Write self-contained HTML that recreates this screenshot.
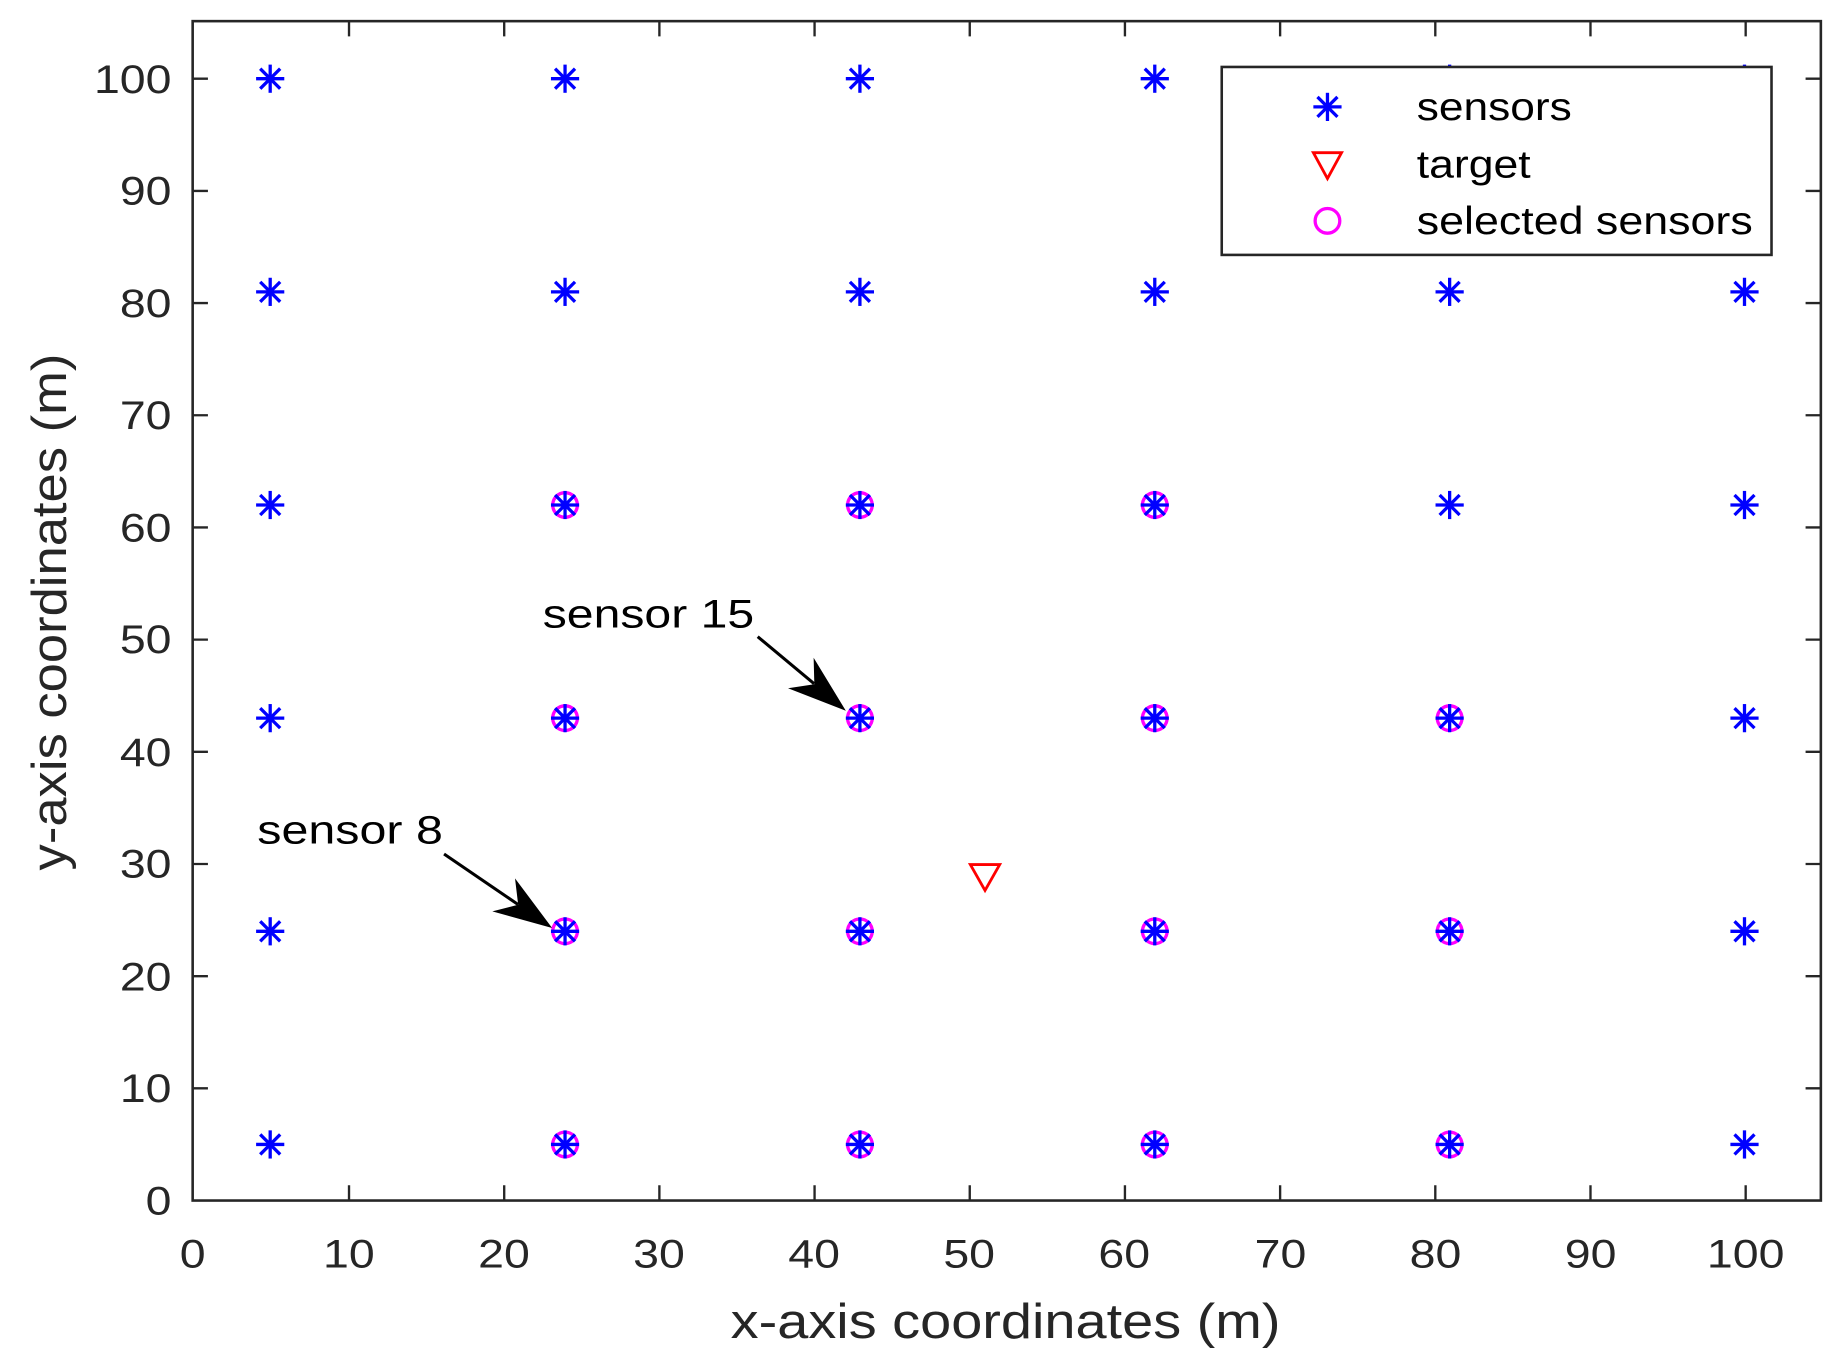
<!DOCTYPE html>
<html><head><meta charset="utf-8"><style>html,body{margin:0;padding:0;background:#fff}svg{display:block}</style></head>
<body>
<svg width="1842" height="1365" viewBox="0 0 1568 1162" preserveAspectRatio="none" xmlns="http://www.w3.org/2000/svg" font-family="'Liberation Sans', Arial, sans-serif">
<defs>
<g id="ast" stroke="#0000ff" stroke-width="2.8" fill="none">
<line x1="-12" y1="0" x2="12" y2="0"/><line x1="0" y1="-12" x2="0" y2="12"/>
<line x1="-8.5" y1="-8.5" x2="8.5" y2="8.5"/><line x1="-8.5" y1="8.5" x2="8.5" y2="-8.5"/>
</g>
<g id="cir"><circle r="10.5" fill="none" stroke="#ff00ff" stroke-width="2.8"/></g>
</defs>
<rect width="1568" height="1162" fill="#fff"/>
<g>
<use href="#cir" x="481" y="974.25"/><use href="#cir" x="732" y="974.25"/><use href="#cir" x="983" y="974.25"/><use href="#cir" x="1234" y="974.25"/>
<use href="#cir" x="481" y="792.8"/><use href="#cir" x="732" y="792.8"/><use href="#cir" x="983" y="792.8"/><use href="#cir" x="1234" y="792.8"/>
<use href="#cir" x="481" y="611.35"/><use href="#cir" x="732" y="611.35"/><use href="#cir" x="983" y="611.35"/><use href="#cir" x="1234" y="611.35"/>
<use href="#cir" x="481" y="429.9"/><use href="#cir" x="732" y="429.9"/><use href="#cir" x="983" y="429.9"/>
</g>
<g>
<use href="#ast" x="230" y="974.25"/><use href="#ast" x="481" y="974.25"/><use href="#ast" x="732" y="974.25"/><use href="#ast" x="983" y="974.25"/><use href="#ast" x="1234" y="974.25"/><use href="#ast" x="1485" y="974.25"/>
<use href="#ast" x="230" y="792.8"/><use href="#ast" x="481" y="792.8"/><use href="#ast" x="732" y="792.8"/><use href="#ast" x="983" y="792.8"/><use href="#ast" x="1234" y="792.8"/><use href="#ast" x="1485" y="792.8"/>
<use href="#ast" x="230" y="611.35"/><use href="#ast" x="481" y="611.35"/><use href="#ast" x="732" y="611.35"/><use href="#ast" x="983" y="611.35"/><use href="#ast" x="1234" y="611.35"/><use href="#ast" x="1485" y="611.35"/>
<use href="#ast" x="230" y="429.9"/><use href="#ast" x="481" y="429.9"/><use href="#ast" x="732" y="429.9"/><use href="#ast" x="983" y="429.9"/><use href="#ast" x="1234" y="429.9"/><use href="#ast" x="1485" y="429.9"/>
<use href="#ast" x="230" y="248.45"/><use href="#ast" x="481" y="248.45"/><use href="#ast" x="732" y="248.45"/><use href="#ast" x="983" y="248.45"/><use href="#ast" x="1234" y="248.45"/><use href="#ast" x="1485" y="248.45"/>
<use href="#ast" x="230" y="67"/><use href="#ast" x="481" y="67"/><use href="#ast" x="732" y="67"/><use href="#ast" x="983" y="67"/><use href="#ast" x="1234" y="67"/><use href="#ast" x="1485" y="67"/>
</g>
<polygon points="826,736 851,736 838.5,758" fill="none" stroke="#ff0000" stroke-width="2.4"/>
<line x1="645" y1="542" x2="693" y2="582" stroke="#000" stroke-width="2.6"/>
<polygon points="720,605 670.8,585.9 693.2,582.5 692.6,559.9" fill="#000"/>
<line x1="378" y1="727" x2="441" y2="770" stroke="#000" stroke-width="2.6"/>
<polygon points="470,790 419.1,775.8 441.1,770.2 438.4,747.7" fill="#000"/>
<text x="462" y="534" font-size="34" fill="#000" textLength="180" lengthAdjust="spacingAndGlyphs">sensor 15</text>
<text x="219" y="718" font-size="34" fill="#000" textLength="158" lengthAdjust="spacingAndGlyphs">sensor 8</text>
<rect x="1040" y="57" width="468" height="160" fill="#fff" stroke="#262626" stroke-width="2.2"/>
<use href="#ast" x="1130" y="91"/>
<polygon points="1118,130 1142,130 1130,152" fill="none" stroke="#ff0000" stroke-width="2.4"/>
<use href="#cir" x="1130" y="188"/>
<g font-size="33" fill="#000">
<text x="1206" y="102" textLength="132" lengthAdjust="spacingAndGlyphs">sensors</text>
<text x="1206" y="151" textLength="97" lengthAdjust="spacingAndGlyphs">target</text>
<text x="1206" y="199" textLength="286" lengthAdjust="spacingAndGlyphs">selected sensors</text>
</g>
<rect x="164" y="18" width="1386" height="1004" fill="none" stroke="#262626" stroke-width="2.2"/>
<g stroke="#262626" stroke-width="2">
<path d="M297.1,1022v-13M429.2,1022v-13M561.3,1022v-13M693.4,1022v-13M825.5,1022v-13M957.6,1022v-13M1089.7,1022v-13M1221.8,1022v-13M1353.9,1022v-13M1486,1022v-13"/>
<path d="M297.1,18v13M429.2,18v13M561.3,18v13M693.4,18v13M825.5,18v13M957.6,18v13M1089.7,18v13M1221.8,18v13M1353.9,18v13M1486,18v13"/>
<path d="M164,926.5h13M164,831h13M164,735.5h13M164,640h13M164,544.5h13M164,449h13M164,353.5h13M164,258h13M164,162.5h13M164,67h13"/>
<path d="M1550,926.5h-13M1550,831h-13M1550,735.5h-13M1550,640h-13M1550,544.5h-13M1550,449h-13M1550,353.5h-13M1550,258h-13M1550,162.5h-13M1550,67h-13"/>
</g>
<g font-size="34" fill="#262626" text-anchor="middle">
<text x="164" y="1079" textLength="22" lengthAdjust="spacingAndGlyphs">0</text><text x="297" y="1079" textLength="44" lengthAdjust="spacingAndGlyphs">10</text><text x="429" y="1079" textLength="44" lengthAdjust="spacingAndGlyphs">20</text><text x="561" y="1079" textLength="44" lengthAdjust="spacingAndGlyphs">30</text><text x="693" y="1079" textLength="44" lengthAdjust="spacingAndGlyphs">40</text><text x="825" y="1079" textLength="44" lengthAdjust="spacingAndGlyphs">50</text><text x="957" y="1079" textLength="44" lengthAdjust="spacingAndGlyphs">60</text><text x="1090" y="1079" textLength="44" lengthAdjust="spacingAndGlyphs">70</text><text x="1222" y="1079" textLength="44" lengthAdjust="spacingAndGlyphs">80</text><text x="1354" y="1079" textLength="44" lengthAdjust="spacingAndGlyphs">90</text><text x="1486" y="1079" textLength="66" lengthAdjust="spacingAndGlyphs">100</text>
</g>
<g font-size="34" fill="#262626" text-anchor="end">
<text x="146" y="1034" textLength="22" lengthAdjust="spacingAndGlyphs">0</text><text x="146" y="938" textLength="44" lengthAdjust="spacingAndGlyphs">10</text><text x="146" y="843" textLength="44" lengthAdjust="spacingAndGlyphs">20</text><text x="146" y="747" textLength="44" lengthAdjust="spacingAndGlyphs">30</text><text x="146" y="652" textLength="44" lengthAdjust="spacingAndGlyphs">40</text><text x="146" y="556" textLength="44" lengthAdjust="spacingAndGlyphs">50</text><text x="146" y="461" textLength="44" lengthAdjust="spacingAndGlyphs">60</text><text x="146" y="365" textLength="44" lengthAdjust="spacingAndGlyphs">70</text><text x="146" y="270" textLength="44" lengthAdjust="spacingAndGlyphs">80</text><text x="146" y="174" textLength="44" lengthAdjust="spacingAndGlyphs">90</text><text x="146" y="79" textLength="66" lengthAdjust="spacingAndGlyphs">100</text>
</g>
<text x="856" y="1139" font-size="42" fill="#262626" text-anchor="middle" textLength="468" lengthAdjust="spacingAndGlyphs">x-axis coordinates (m)</text>
<text transform="translate(56,521) rotate(-90)" font-size="42" fill="#262626" text-anchor="middle" textLength="440" lengthAdjust="spacingAndGlyphs">y-axis coordinates (m)</text>
</svg>
</body></html>
